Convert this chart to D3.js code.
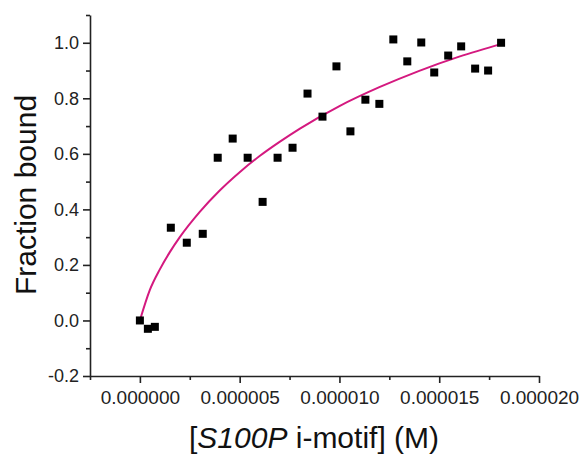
<!doctype html>
<html lang="en">
<head>
    <meta charset="utf-8">
    <title>Fraction bound vs S100P i-motif</title>
    <script src="https://cdnjs.cloudflare.com/ajax/libs/d3/7.8.5/d3.min.js" type="text/JavaScript"></script>
    <style>
        body { margin: 0; background: #fff; }
        svg { display: block; font-family: "Liberation Sans", Arial, sans-serif; }
    </style>
</head>
<body>
<div id="chart"></div>
<script>

    // measured points: concentration (M) and fraction bound
    const concentration = [0, 0.4e-6, 0.75e-6, 1.55e-6, 2.35e-6, 3.15e-6, 3.9e-6, 4.65e-6, 5.4e-6,
        6.15e-6, 6.9e-6, 7.65e-6, 8.4e-6, 9.15e-6, 9.85e-6, 10.55e-6, 11.3e-6, 12.0e-6, 12.7e-6,
        13.4e-6, 14.1e-6, 14.75e-6, 15.45e-6, 16.1e-6, 16.8e-6, 17.45e-6, 18.1e-6];
    const fractionBound = [0.0, -0.03, -0.023, 0.334, 0.28, 0.312, 0.586, 0.655, 0.586,
        0.427, 0.586, 0.622, 0.817, 0.734, 0.915, 0.681, 0.795, 0.78, 1.012,
        0.933, 1.001, 0.893, 0.954, 0.987, 0.907, 0.9, 1.0];

    // fitted curve
    const fitX = [0, 0.5e-6, 1e-6, 1.5e-6, 2e-6, 3e-6, 4e-6, 5e-6, 6e-6, 7e-6, 8e-6,
        10e-6, 12e-6, 14e-6, 16e-6, 18.17e-6];
    const fitY = [0, 0.11, 0.184, 0.246, 0.300, 0.391, 0.468, 0.534, 0.592, 0.643, 0.690,
        0.772, 0.840, 0.899, 0.950, 0.997];

    const xTicks = [0, 5e-6, 1e-5, 1.5e-5, 2e-5];
    const xMinor = [-2.5e-6, 2.5e-6, 7.5e-6, 1.25e-5, 1.75e-5];
    const yTicks = [-0.2, 0.0, 0.2, 0.4, 0.6, 0.8, 1.0];
    const yMinor = [-0.1, 0.1, 0.3, 0.5, 0.7, 0.9, 1.1];

    const width = 587, height = 455;

    const x = d3.scaleLinear()
        .domain([-2.5e-6, 2e-5])
        .range([90, 539]);

    const y = d3.scaleLinear()
        .domain([-0.2, 1.1])
        .range([376, 15]);

    const svg = d3.select("#chart").append("svg")
        .attr("width", width)
        .attr("height", height);

    // x axis, major + minor ticks
    const gx = svg.append("g")
        .attr("transform", `translate(0,${y(-0.2)})`)
        .call(d3.axisBottom(x).tickValues(xTicks).tickSize(7).tickSizeOuter(0)
            .tickFormat(d => d.toFixed(6)));
    svg.append("g")
        .attr("transform", `translate(0,${y(-0.2)})`)
        .call(d3.axisBottom(x).tickValues(xMinor).tickSize(4).tickFormat(""))
        .select(".domain").remove();

    gx.selectAll("text")
        .attr("dy", 0)
        .attr("y", 28)
        .attr("font-size", 19)
        .attr("fill", "#222");

    // y axis
    const gy = svg.append("g")
        .attr("transform", `translate(${x(-2.5e-6)},0)`)
        .call(d3.axisLeft(y).tickValues(yTicks).tickSize(7).tickSizeOuter(0)
            .tickFormat(d => d.toFixed(1)));
    svg.append("g")
        .attr("transform", `translate(${x(-2.5e-6)},0)`)
        .call(d3.axisLeft(y).tickValues(yMinor).tickSize(4).tickFormat(""))
        .select(".domain").remove();

    gy.selectAll("text")
        .attr("x", -11)
        .attr("font-size", 18)
        .attr("fill", "#222");

    svg.selectAll(".domain, .tick line")
        .attr("stroke", "#222")
        .attr("stroke-width", 1.6);

    // fit line
    const line = d3.line()
        .x(i => x(fitX[i]))
        .y(i => y(fitY[i]))
        .curve(d3.curveMonotoneX);

    svg.append("path")
        .attr("d", line(d3.range(fitX.length)))
        .attr("fill", "none")
        .attr("stroke", "#d4197f")
        .attr("stroke-width", 2);

    // data squares
    const s = 8;
    svg.append("g")
        .selectAll("rect")
        .data(d3.range(concentration.length))
        .join("rect")
        .attr("x", i => x(concentration[i]) - s / 2)
        .attr("y", i => y(fractionBound[i]) - s / 2)
        .attr("width", s)
        .attr("height", s)
        .attr("fill", "#000");

    // axis titles
    svg.append("text")
        .attr("transform", `translate(36,195) rotate(-90)`)
        .attr("text-anchor", "middle")
        .attr("font-size", 30)
        .attr("fill", "#111")
        .text("Fraction bound");

    const xt = svg.append("text")
        .attr("x", 314)
        .attr("y", 448)
        .attr("text-anchor", "middle")
        .attr("font-size", 30)
        .attr("fill", "#111");
    xt.append("tspan").text("[");
    xt.append("tspan").attr("font-style", "italic").text("S100P");
    xt.append("tspan").text(" i-motif] (M)");

</script>
</body>
</html>
